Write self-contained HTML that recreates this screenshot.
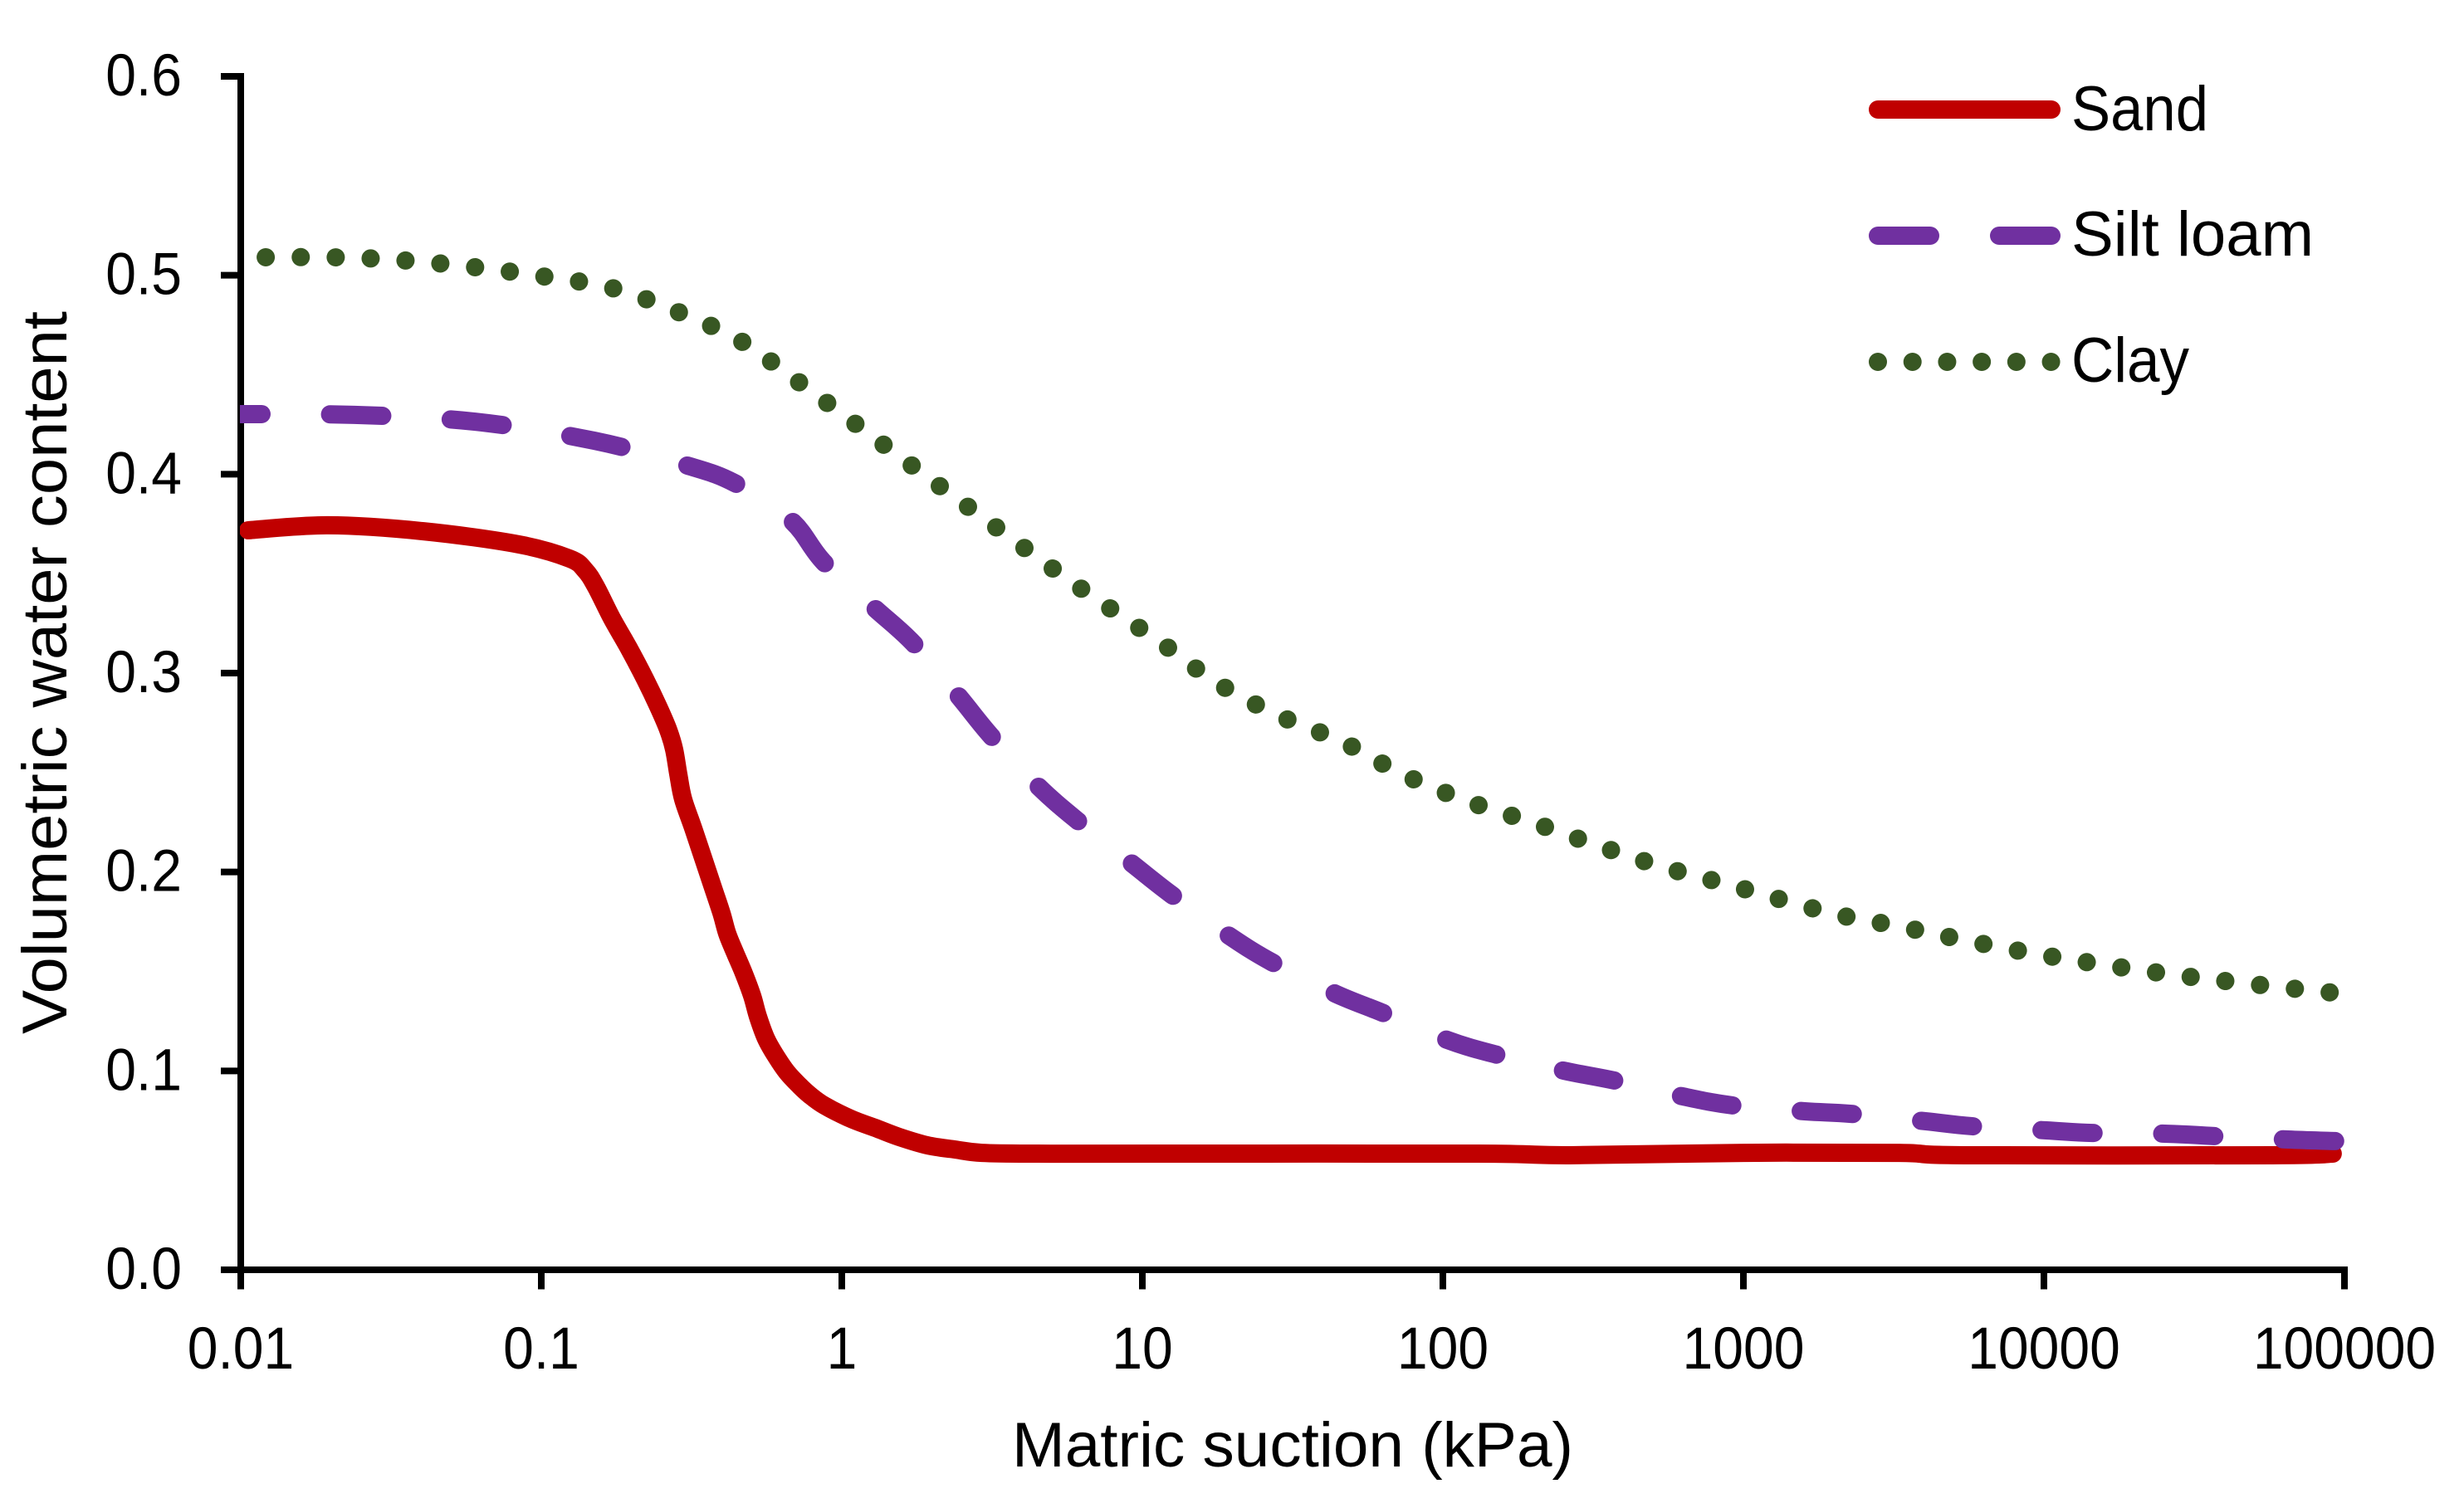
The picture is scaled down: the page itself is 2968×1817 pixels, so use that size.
<!DOCTYPE html>
<html lang="en">
<head>
<meta charset="utf-8">
<title>Soil water retention curves</title>
<style>
html,body{margin:0;padding:0;background:#fff;}
svg{display:block;}
text{font-family:"Liberation Sans",sans-serif;fill:#000;}
</style>
</head>
<body>
<svg id="chart" xmlns="http://www.w3.org/2000/svg" width="2968" height="1817" viewBox="0 0 2968 1817">
  <defs>
    <clipPath id="plot-clip"><rect x="289" y="0" width="2541" height="1817"/></clipPath>
  </defs>
  <rect x="0" y="0" width="2968" height="1817" fill="#ffffff"/>
  <g id="axes"></g>
  <g id="series" clip-path="url(#plot-clip)"></g>
  <text transform="translate(80 1246) rotate(-90)" font-size="76" textLength="871" lengthAdjust="spacingAndGlyphs">Volumetric water content</text>
  <text x="1219" y="1767" font-size="76" textLength="676" lengthAdjust="spacingAndGlyphs">Matric suction (kPa)</text>
  <g>
    <g>
      <line x1="2262" y1="132" x2="2471" y2="132" stroke="#C00000" stroke-width="22" stroke-linecap="round"/>
      <text x="2495" y="157" font-size="76" textLength="165" lengthAdjust="spacingAndGlyphs">Sand</text>
    </g>
    <g>
      <line x1="2262" y1="284" x2="2471" y2="284" stroke="#7030A0" stroke-width="22" stroke-linecap="round" stroke-dasharray="63 83"/>
      <text x="2495" y="308" font-size="76" textLength="292" lengthAdjust="spacingAndGlyphs">Silt loam</text>
    </g>
    <g>
      <line x1="2262" y1="436" x2="2471" y2="436" stroke="#385723" stroke-width="22" stroke-linecap="round" stroke-dasharray="0.01 41.7"/>
      <text x="2495" y="460" font-size="76" textLength="142" lengthAdjust="spacingAndGlyphs">Clay</text>
    </g>
  </g>
</svg>
<script>
// Tick labels
const xTickLabels = ['0.01', '0.1', '1', '10', '100', '1000', '10000', '100000'];
const xTickValues = [-2, -1, 0, 1, 2, 3, 4, 5];
const yTickLabels = ['0.0', '0.1', '0.2', '0.3', '0.4', '0.5', '0.6'];
const yTickValues = [0, 0.1, 0.2, 0.3, 0.4, 0.5, 0.6];

// Sand: log10 of suction (kPa) and volumetric water content
const sandLogSuction = [-1.975, -1.71, -1.392, -1.075, -0.906, -0.854, -0.818, -0.765, -0.71, -0.655, -0.61, -0.577, -0.558, -0.544, -0.528, -0.4925, -0.431, -0.4006, -0.3812, -0.3564, -0.326, -0.2983, -0.279, -0.2514, -0.2182, -0.1823, -0.1409, -0.1077, -0.058, 0.0304, 0.1188, 0.1906, 0.2845, 0.3757, 0.4669, 0.652, 1.066, 2.116, 2.423, 3, 3.519, 3.735, 4.76, 4.961];
const sandContent = [0.3718, 0.3743, 0.3713, 0.3647, 0.3576, 0.3517, 0.3434, 0.3275, 0.3129, 0.2971, 0.2829, 0.2712, 0.2616, 0.2491, 0.2366, 0.2211, 0.1932, 0.1794, 0.169, 0.1598, 0.149, 0.1377, 0.1273, 0.116, 0.1072, 0.0993, 0.0926, 0.088, 0.0826, 0.0759, 0.0709, 0.0668, 0.0626, 0.0605, 0.0588, 0.0584, 0.0584, 0.0584, 0.0576, 0.0588, 0.0588, 0.0576, 0.0576, 0.0584];

// Silt loam
const siltLogSuction = [-2, -1.622, -1.221, -0.823, -0.522, -0.356, -0.169, -0.061, 0.11, 0.238, 0.387, 0.497, 0.652, 0.785, 0.964, 1.097, 1.287, 1.434, 1.641, 1.801, 2.014, 2.18, 2.403, 2.572, 2.798, 2.967, 3.204, 3.359, 3.605, 3.76, 4.008, 4.163, 4.412, 4.569, 4.812, 4.972];
const siltContent = [0.4302, 0.4298, 0.4264, 0.4168, 0.4047, 0.3955, 0.3768, 0.3559, 0.3325, 0.315, 0.2887, 0.2683, 0.2433, 0.2257, 0.2044, 0.1886, 0.1681, 0.1544, 0.1389, 0.1291, 0.1156, 0.1081, 0.1001, 0.0951, 0.0872, 0.0826, 0.0797, 0.0784, 0.0747, 0.0722, 0.0701, 0.0688, 0.0684, 0.0672, 0.0655, 0.0647];

// Clay
const clayLogSuction = [-2, -1.68, -1.45, -1.218, -0.992, -0.765, -0.55, -0.34, -0.152, 0.218, 0.497, 0.776, 1.061, 1.249, 1.453, 1.666, 1.867, 2.08, 2.298, 2.517, 2.735, 2.956, 3.29, 3.517, 3.74, 3.967, 4.193, 4.423, 4.649, 4.878, 5.017];
const clayContent = [0.509, 0.509, 0.5074, 0.504, 0.4994, 0.4936, 0.4819, 0.4673, 0.4473, 0.406, 0.3751, 0.3446, 0.3154, 0.295, 0.2787, 0.2654, 0.2491, 0.2357, 0.2249, 0.2132, 0.2024, 0.1934, 0.1794, 0.1727, 0.1656, 0.159, 0.1535, 0.1485, 0.1444, 0.1406, 0.1385];

const NS = 'http://www.w3.org/2000/svg';
const xAxisLeft = 290, xDecade = 362, yZero = 1530, yPerUnit = 2396.67;
function xScale(logS) { return xAxisLeft + (logS + 2) * xDecade; }
function yScale(v) { return yZero - v * yPerUnit; }

function make(parent, tag, attrs, text) {
  const el = document.createElementNS(NS, tag);
  Object.keys(attrs).forEach(function (k) { el.setAttribute(k, attrs[k]); });
  if (text !== undefined) el.textContent = text;
  parent.appendChild(el);
  return el;
}

function smoothPath(xs, ys) {
  const p = xs.map(function (x, i) { return [xScale(x), yScale(ys[i])]; });
  let d = 'M' + p[0][0].toFixed(2) + ' ' + p[0][1].toFixed(2);
  for (let i = 0; i < p.length - 1; i++) {
    const a = p[Math.max(i - 1, 0)], b = p[i], c = p[i + 1], e = p[Math.min(i + 2, p.length - 1)];
    const c1x = b[0] + (c[0] - a[0]) / 6, c1y = b[1] + (c[1] - a[1]) / 6;
    const c2x = c[0] - (e[0] - b[0]) / 6, c2y = c[1] - (e[1] - b[1]) / 6;
    d += 'C' + c1x.toFixed(2) + ' ' + c1y.toFixed(2) + ' ' + c2x.toFixed(2) + ' ' + c2y.toFixed(2) + ' ' + c[0].toFixed(2) + ' ' + c[1].toFixed(2);
  }
  return d;
}

function fitText(el, factor) {
  const w = el.getComputedTextLength();
  el.setAttribute('textLength', (w * factor).toFixed(1));
  el.setAttribute('lengthAdjust', 'spacingAndGlyphs');
}

const axes = document.getElementById('axes');
const seriesGroup = document.getElementById('series');

const yAxisLine = make(axes, 'line', { x1: xAxisLeft, y1: yScale(0.6) - 4, x2: xAxisLeft, y2: yZero, stroke: '#000', 'stroke-width': 8 });



const xAxisLine = make(axes, 'line', { x1: 266, y1: yZero, x2: xScale(5) + 4, y2: yZero, stroke: '#000', 'stroke-width': 8 });



yTickValues.forEach(function (v, i) {
  const y = yScale(v);
  const tick = make(axes, 'line', { x1: 266, y1: y, x2: xAxisLeft, y2: y, stroke: '#000', 'stroke-width': 8 });
  
  
  const label = make(axes, 'text', { x: 219, y: y + 23, 'font-size': 71, 'text-anchor': 'end' }, yTickLabels[i]);
  
  
  fitText(label, 0.93);
});

xTickValues.forEach(function (v, i) {
  const x = xScale(v);
  const tick = make(axes, 'line', { x1: x, y1: yZero, x2: x, y2: 1553.5, stroke: '#000', 'stroke-width': 8 });
  
  
  const label = make(axes, 'text', { x: x, y: 1649, 'font-size': 71, 'text-anchor': 'middle' }, xTickLabels[i]);
  
  
  fitText(label, 0.93);
});

const sandLine = make(seriesGroup, 'path', { d: smoothPath(sandLogSuction, sandContent), fill: 'none', stroke: '#C00000', 'stroke-width': 22, 'stroke-linecap': 'round', 'stroke-linejoin': 'round' });



const siltLine = make(seriesGroup, 'path', { d: smoothPath(siltLogSuction, siltContent), fill: 'none', stroke: '#7030A0', 'stroke-width': 22, 'stroke-linecap': 'round', 'stroke-linejoin': 'round', 'stroke-dasharray': '63 82.5', 'stroke-dashoffset': 38 });



const clayLine = make(seriesGroup, 'path', { d: smoothPath(clayLogSuction, clayContent), fill: 'none', stroke: '#385723', 'stroke-width': 22, 'stroke-linecap': 'round', 'stroke-dasharray': '0.01 42.1', 'stroke-dashoffset': 12 });


</script>
</body>
</html>
